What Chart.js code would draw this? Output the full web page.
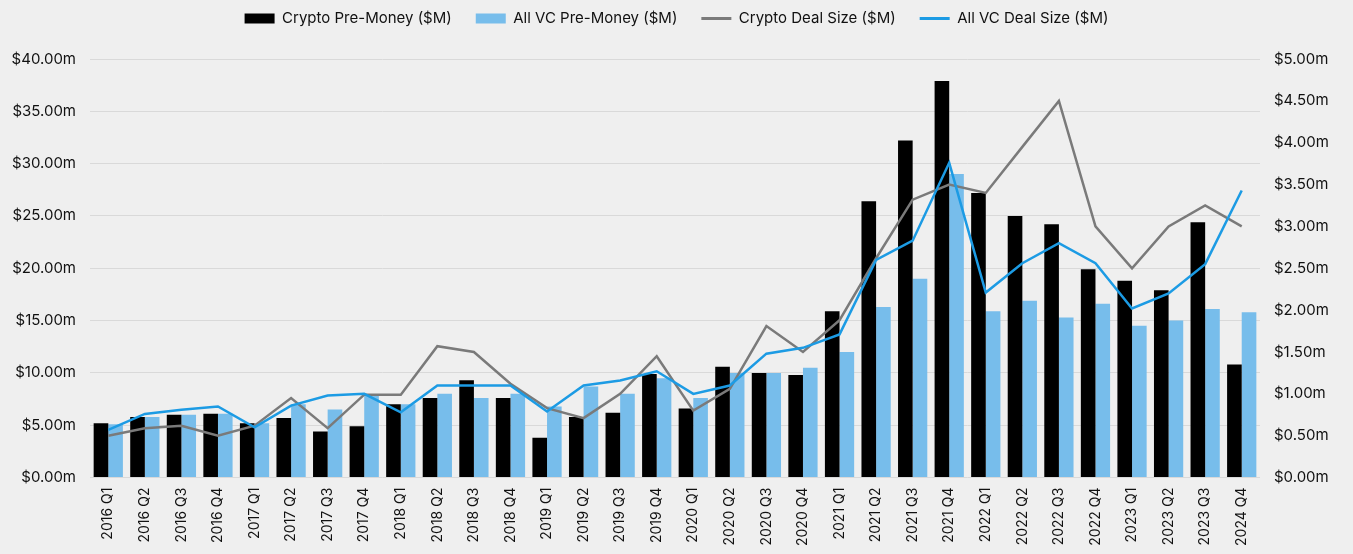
<!DOCTYPE html>
<html>
<head>
<meta charset="utf-8">
<script src="https://cdn.jsdelivr.net/npm/chart.js@4.4.1/dist/chart.umd.min.js"></script>
<style>
  html, body { margin: 0; padding: 0; background: #efefef; }
  #wrap { width: 1353px; height: 554px; }
</style>
</head>
<body>
<div id="wrap"><canvas id="myChart"></canvas></div>
<script>
// quarters as labelled in the source (last label reads 2024 Q4)
var quarters = ['2016 Q1','2016 Q2','2016 Q3','2016 Q4','2017 Q1','2017 Q2','2017 Q3','2017 Q4',
    '2018 Q1','2018 Q2','2018 Q3','2018 Q4','2019 Q1','2019 Q2','2019 Q3','2019 Q4',
    '2020 Q1','2020 Q2','2020 Q3','2020 Q4','2021 Q1','2021 Q2','2021 Q3','2021 Q4',
    '2022 Q1','2022 Q2','2022 Q3','2022 Q4','2023 Q1','2023 Q2','2023 Q3','2024 Q4'];

var cryptoPreMoney = [5.2, 5.8, 6.0, 6.1, 5.2, 5.7, 4.4, 4.9, 7.0, 7.6, 9.3, 7.6,
    3.8, 5.8, 6.2, 9.9, 6.6, 10.6, 10.0, 9.8, 15.9, 26.4, 32.2, 37.9,
    27.2, 25.0, 24.2, 19.9, 18.8, 17.9, 24.4, 10.8];
var allVcPreMoney = [5.1, 5.8, 6.0, 6.1, 5.2, 7.0, 6.5, 7.8, 7.0, 8.0, 7.6, 8.0,
    6.8, 8.7, 8.0, 9.5, 7.6, 10.0, 10.0, 10.5, 12.0, 16.3, 19.0, 29.0,
    15.9, 16.9, 15.3, 16.6, 14.5, 15.0, 16.1, 15.8];
var cryptoDealSize = [0.50, 0.59, 0.62, 0.50, 0.62, 0.95, 0.59, 0.99, 0.99, 1.57, 1.50, 1.12,
    0.83, 0.71, 1.00, 1.45, 0.80, 1.06, 1.81, 1.50, 1.88, 2.62, 3.32, 3.50,
    3.40, 3.95, 4.50, 3.00, 2.50, 3.00, 3.25, 3.00];
var allVcDealSize = [0.57, 0.76, 0.81, 0.85, 0.60, 0.86, 0.98, 1.00, 0.78, 1.10, 1.10, 1.10,
    0.79, 1.10, 1.16, 1.27, 1.00, 1.10, 1.48, 1.55, 1.71, 2.60, 2.83, 3.76,
    2.21, 2.56, 2.80, 2.56, 2.02, 2.20, 2.55, 3.43];

var leftTicks = { min: 0, max: 40, step: 5 };
var rightTicks = { min: 0, max: 5, step: 0.5 };

var fontFamily = 'Inter, "Noto Sans", sans-serif';
Chart.defaults.font.family = fontFamily;
Chart.defaults.color = '#111';

// the legend sits higher than Chart.js puts it, pull it up
var legendShift = {
    id: 'legendShift',
    afterLayout: function(chart) {
        var lg = chart.legend;
        if (!lg) return;
        lg.top -= 23; lg.bottom -= 23;
    }
};

function money(v) { return '$' + Number(v).toFixed(2) + 'm'; }

var ctx = document.getElementById('myChart').getContext('2d');
var chart = new Chart(ctx, {
    type: 'bar',
    data: {
        labels: quarters,
        datasets: [{
            label: 'Crypto Pre-Money ($M)',
            data: cryptoPreMoney,
            backgroundColor: '#000000',
            yAxisID: 'y',
            order: 2,
            categoryPercentage: 0.8,
            barPercentage: 1.0
        }, {
            label: 'All VC Pre-Money ($M)',
            data: allVcPreMoney,
            backgroundColor: '#77bdeb',
            yAxisID: 'y',
            order: 3,
            categoryPercentage: 0.8,
            barPercentage: 1.0
        }, {
            type: 'line',
            label: 'Crypto Deal Size ($M)',
            data: cryptoDealSize,
            borderColor: '#7a7a7a',
            backgroundColor: '#7a7a7a',
            borderWidth: 2.5,
            pointRadius: 0,
            tension: 0,
            yAxisID: 'y1',
            order: 1
        }, {
            type: 'line',
            label: 'All VC Deal Size ($M)',
            data: allVcDealSize,
            borderColor: '#1c9be4',
            backgroundColor: '#1c9be4',
            borderWidth: 2.5,
            pointRadius: 0,
            tension: 0,
            yAxisID: 'y1',
            order: 0
        }]
    },
    options: {
        responsive: true,
        maintainAspectRatio: false,
        animation: false,
        layout: { padding: { top: 10, left: 6, right: 6, bottom: 6 } },
        plugins: {
            tooltip: { enabled: false },
            legend: {
                position: 'top',
                labels: {
                    font: { size: 15 },
                    color: '#111',
                    usePointStyle: true,
                    pointStyleWidth: 30,
                    boxHeight: 10,
                    padding: 24,
                    sort: function(a, b) { return a.datasetIndex - b.datasetIndex; },
                    generateLabels: function(chart) {
                        var items = Chart.defaults.plugins.legend.labels.generateLabels(chart);
                        items.forEach(function(it) {
                            var ds = chart.data.datasets[it.datasetIndex];
                            if (ds.type === 'line') {
                                it.pointStyle = 'line';
                                it.lineWidth = 3;
                                it.strokeStyle = ds.borderColor;
                            } else {
                                it.pointStyle = 'rect';
                                it.lineWidth = 0;
                            }
                        });
                        return items;
                    }
                }
            }
        },
        scales: {
            x: {
                grid: { display: false },
                border: { display: false },
                ticks: {
                    font: { size: 14 },
                    color: '#111',
                    minRotation: 90,
                    maxRotation: 90,
                    autoSkip: false,
                    padding: 2
                }
            },
            y: {
                position: 'left',
                min: leftTicks.min,
                max: leftTicks.max,
                border: { display: false },
                grid: { color: '#d9d9d9', lineWidth: 1, drawTicks: false },
                afterFit: function(scale) { scale.width = 84; },
                ticks: {
                    stepSize: leftTicks.step,
                    font: { size: 15 },
                    color: '#111',
                    padding: 14,
                    callback: money
                }
            },
            y1: {
                position: 'right',
                min: rightTicks.min,
                max: rightTicks.max,
                border: { display: false },
                grid: { drawOnChartArea: false, drawTicks: false },
                afterFit: function(scale) { scale.width = 87; },
                ticks: {
                    stepSize: rightTicks.step,
                    font: { size: 15 },
                    color: '#111',
                    padding: 14,
                    callback: money
                }
            }
        }
    },
    plugins: [legendShift]
});
</script>
</body>
</html>
